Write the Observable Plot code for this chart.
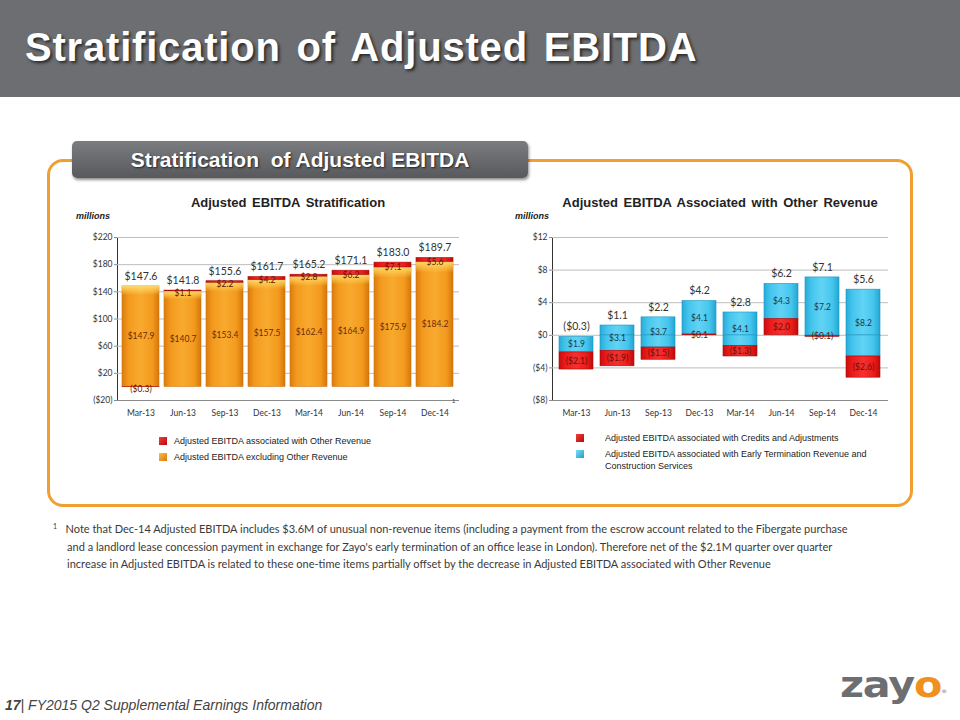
<!DOCTYPE html>
<html><head><meta charset="utf-8">
<script src="https://cdn.jsdelivr.net/npm/d3@7"></script>
<script src="https://cdn.jsdelivr.net/npm/@observablehq/plot@0.6"></script>
<style>
body{margin:0;background:#fff;}
#page{position:relative;width:960px;height:720px;overflow:hidden;font-family:"Liberation Sans",Arial,sans-serif;}
.abs{position:absolute;white-space:nowrap;}
#header{left:0;top:0;width:960px;height:97px;background:#6d6e71;}
#title{left:25px;top:24px;color:#fff;font-weight:bold;font-size:40px;line-height:46px;letter-spacing:0.8px;word-spacing:4px;text-shadow:2px 2px 3px #2a2a2a;}
#box{left:47px;top:159px;width:860px;height:342px;border:3px solid #f0a030;border-radius:16px;}
#tab{left:72px;top:141px;width:456px;height:37px;border-radius:5px;background:linear-gradient(#7b7c7f,#58595c);box-shadow:1px 2px 3px rgba(0,0,0,.45);color:#fff;font-weight:bold;font-size:21px;text-align:center;line-height:37px;text-shadow:1px 1px 2px #222;}
.ctitle{font-weight:bold;font-size:13px;word-spacing:2px;color:#222;transform:translateX(-50%);}
.mill{font-weight:bold;font-style:italic;font-size:9px;color:#222;}
.leg{font-size:9px;color:#222;}
.sw{width:8px;height:8px;}
#foot{left:53px;top:520px;font-family:Lato,sans-serif;font-size:11px;line-height:17.5px;color:#3a3a3a;}
#footer{left:5px;top:697px;font-style:italic;font-size:14px;color:#444;}
#logo{left:840px;top:668px;font-family:"DejaVu Sans",sans-serif;font-weight:900;font-size:35px;line-height:35px;letter-spacing:-1px;transform:scaleX(1.18);transform-origin:left top;}
</style></head>
<body>
<svg width="0" height="0" style="position:absolute">
<defs>
<linearGradient id="gOrange" x1="0" x2="1" y1="0" y2="0">
<stop offset="0" stop-color="#dc7c0c"/><stop offset="0.18" stop-color="#f39a1e"/><stop offset="0.5" stop-color="#f8aa2e"/><stop offset="0.82" stop-color="#f39a1e"/><stop offset="1" stop-color="#d6760a"/>
</linearGradient>
<linearGradient id="gTop" x1="0" x2="0" y1="0" y2="1">
<stop offset="0" stop-color="#ffe27a" stop-opacity="0.9"/><stop offset="0.045" stop-color="#ffd860" stop-opacity="0.55"/><stop offset="0.09" stop-color="#ffd860" stop-opacity="0"/><stop offset="1" stop-color="#ffd860" stop-opacity="0"/>
</linearGradient>
<linearGradient id="gRed" x1="0" x2="1" y1="0" y2="0">
<stop offset="0" stop-color="#c80c0c"/><stop offset="0.2" stop-color="#ee1c1c"/><stop offset="0.5" stop-color="#f53030"/><stop offset="0.8" stop-color="#ee1c1c"/><stop offset="1" stop-color="#c00a0a"/>
</linearGradient>
<linearGradient id="gCyan" x1="0" x2="1" y1="0" y2="0">
<stop offset="0" stop-color="#27acd8"/><stop offset="0.2" stop-color="#45c6ee"/><stop offset="0.5" stop-color="#62d3f4"/><stop offset="0.8" stop-color="#45c6ee"/><stop offset="1" stop-color="#22a6d2"/>
</linearGradient>
</defs></svg>
<div id="page">
  <div id="header" class="abs"></div>
  <div id="title" class="abs">Stratification of Adjusted EBITDA</div>
  <div id="box" class="abs"></div>
  <div id="tab" class="abs">Stratification&nbsp; of Adjusted EBITDA</div>

  <div class="abs ctitle" style="left:288px;top:195px;">Adjusted EBITDA Stratification</div>
  <div class="abs ctitle" style="left:720px;top:195px;">Adjusted EBITDA Associated with Other Revenue</div>
  <div class="abs mill" style="left:76px;top:211px;">millions</div>
  <div class="abs mill" style="left:515px;top:211px;">millions</div>

  <div id="leftChart" class="abs" style="left:70px;top:225px;"></div>
  <div id="rightChart" class="abs" style="left:510px;top:225px;"></div>
  <div class="abs" style="left:452px;top:398px;font-size:6px;color:#333;">1</div>

  <div class="abs sw" style="left:159px;top:437px;background:linear-gradient(135deg,#f04040,#b80808);"></div>
  <div class="abs leg" style="left:174px;top:436px;">Adjusted EBITDA associated with Other Revenue</div>
  <div class="abs sw" style="left:159px;top:453px;background:linear-gradient(135deg,#fbc04a,#d9760a);"></div>
  <div class="abs leg" style="left:174px;top:452px;">Adjusted EBITDA excluding Other Revenue</div>

  <div class="abs sw" style="left:576px;top:434px;background:linear-gradient(135deg,#f04040,#b80808);"></div>
  <div class="abs leg" style="left:605px;top:433px;">Adjusted EBITDA associated with Credits and Adjustments</div>
  <div class="abs sw" style="left:576px;top:450px;background:linear-gradient(135deg,#7fdcf6,#1f9fcc);"></div>
  <div class="abs leg" style="left:605px;top:448px;line-height:12px;">Adjusted EBITDA associated with Early Termination Revenue and<br>Construction Services</div>

  <div id="foot" class="abs"><span style="font-size:7px;vertical-align:top;position:relative;top:-2px;">1</span>&nbsp;&nbsp; Note that Dec-14 Adjusted EBITDA includes $3.6M of unusual non-revenue items (including a payment from the escrow account related to the Fibergate purchase<br>&nbsp;&nbsp;&nbsp;&nbsp; and a landlord lease concession payment in exchange for Zayo's early termination of an office lease in London). Therefore net of the $2.1M quarter over quarter<br>&nbsp;&nbsp;&nbsp;&nbsp; increase in Adjusted EBITDA is related to these one-time items partially offset by the decrease in Adjusted EBITDA associated with Other Revenue</div>

  <div id="footer" class="abs"><b>17</b>| FY2015 Q2 Supplemental Earnings Information</div>
  <div id="logo" class="abs"><span style="color:#6d6e71">zay</span><span style="color:#f0901e">o</span><span style="font-size:5px;color:#999;vertical-align:top;position:relative;top:6px;">®</span></div>
</div>
<script>
const quarters = ["Mar-13","Jun-13","Sep-13","Dec-13","Mar-14","Jun-14","Sep-14","Dec-14"];
// Left chart: Adjusted EBITDA stratification ($M)
const exclOtherRevenue = [147.9,140.7,153.4,157.5,162.4,164.9,175.9,184.2];
const otherRevenue = [-0.3,1.1,2.2,4.2,2.8,6.2,7.1,5.6];
const adjustedTotal = [147.6,141.8,155.6,161.7,165.2,171.1,183.0,189.7];
const leftTicks = [-20,20,60,100,140,180,220];
// Right chart: Adjusted EBITDA associated with other revenue ($M)
const earlyTermConstruction = [1.9,3.1,3.7,4.1,4.1,4.3,7.2,8.2];
const creditsAdjustments = [-2.1,-1.9,-1.5,0.1,-1.3,2.0,-0.1,-2.6];
const rightTicks = [-8,-4,0,4,8,12];

const fmt = v => v < 0 ? `($${Math.abs(v).toFixed(1)})` : `$${v.toFixed(1)}`;
const fmtTick = v => v < 0 ? `($${Math.abs(v)})` : `$${v}`;

const left = quarters.map((q, i) => {
  const e = exclOtherRevenue[i], o = otherRevenue[i];
  return {q, excl: e, other: o, total: adjustedTotal[i],
    r1: o >= 0 ? e : 0, r2: o >= 0 ? e + o : o};
});

const leftPlot = Plot.plot({
  width: 400, height: 200,
  marginLeft: 47, marginRight: 11, marginTop: 12, marginBottom: 25,
  style: {fontFamily: "Lato, sans-serif", fontSize: "8.5px", color: "#333", background: "transparent", overflow: "visible"},
  x: {domain: quarters, padding: 0.11, label: null, tickSize: 0, tickPadding: 9},
  y: {domain: [-20, 220], ticks: leftTicks, tickFormat: fmtTick, label: null, tickSize: 3, tickPadding: 2, line: true},
  marks: [
    Plot.gridY(leftTicks, {stroke: "#bdbdbd", strokeOpacity: 1}),
    Plot.barY(left, {x: "q", y1: 0, y2: "excl", fill: "url(#gOrange)", stroke: "#cf7410", strokeWidth: 0.6}),
    Plot.barY(left, {x: "q", y1: 0, y2: "excl", fill: "url(#gTop)"}),
    Plot.barY(left, {x: "q", y1: "r1", y2: "r2", fill: "url(#gRed)", stroke: "#a80a0a", strokeWidth: 0.6}),
    Plot.text(left, {x: "q", y: d => d.excl / 2, text: d => fmt(d.excl), fill: "#6b2a05", fontSize: 8.5}),
    Plot.text(left, {x: "q", y: d => (d.r1 + d.r2) / 2, text: d => fmt(d.other), fill: "#5a1608", fontSize: 8.5, dy: 2}),
    Plot.text(left, {x: "q", y: "total", text: d => fmt(d.total), dy: -10, fontSize: 10.5, fill: "#333"}),
    Plot.ruleY([-20], {stroke: "#8a8a8a"})
  ]
});
document.getElementById("leftChart").append(leftPlot);

const segs = [], labels = [];
quarters.forEach((q, i) => {
  const c = earlyTermConstruction[i], r = creditsAdjustments[i];
  const lo = r, hi = r + c;
  if (lo < 0 && hi > 0) {
    segs.push({q, y1: lo, y2: 0, s: "cyan"});
    segs.push({q, y1: 0, y2: hi, s: "cyan"});
  } else segs.push({q, y1: lo, y2: hi, s: "cyan"});
  const red = r >= 0 ? [0, r] : [r, 2 * r];
  segs.push({q, y1: red[0], y2: red[1], s: "red"});
  labels.push({q, total: otherRevenue[i], top: hi, cMid: (lo + hi) / 2, c, r, rMid: (red[0] + red[1]) / 2});
});

const rightPlot = Plot.plot({
  width: 390, height: 200,
  marginLeft: 42, marginRight: 12, marginTop: 12, marginBottom: 25,
  style: {fontFamily: "Lato, sans-serif", fontSize: "8.5px", color: "#333", background: "transparent", overflow: "visible"},
  x: {domain: quarters, padding: 0.16, label: null, tickSize: 0, tickPadding: 9},
  y: {domain: [-8, 12], ticks: rightTicks, tickFormat: fmtTick, label: null, tickSize: 3, tickPadding: 2, line: true},
  marks: [
    Plot.gridY(rightTicks, {stroke: "#bdbdbd", strokeOpacity: 1}),
    Plot.barY(segs.filter(d => d.s === "cyan"), {x: "q", y1: "y1", y2: "y2", fill: "url(#gCyan)", stroke: "#1a93c0", strokeWidth: 0.6}),
    Plot.barY(segs.filter(d => d.s === "red"), {x: "q", y1: "y1", y2: "y2", fill: "url(#gRed)", stroke: "#a80a0a", strokeWidth: 0.6}),
    Plot.text(labels, {x: "q", y: "cMid", text: d => fmt(d.c), fill: "#1e3448", fontSize: 8.5}),
    Plot.text(labels, {x: "q", y: "rMid", text: d => fmt(d.r), fill: "#5a1608", fontSize: 8.5}),
    Plot.text(labels, {x: "q", y: "top", text: d => fmt(d.total), dy: -10, fontSize: 10.5, fill: "#333"}),
    Plot.ruleY([-8], {stroke: "#8a8a8a"})
  ]
});
document.getElementById("rightChart").append(rightPlot);

// soften the axis line / tick colour
d3.selectAll("#leftChart svg [aria-label='y-axis tick'] path, #rightChart svg [aria-label='y-axis tick'] path").attr("stroke", "#8a8a8a");
d3.selectAll("#leftChart svg [aria-label='y-axis line'], #rightChart svg [aria-label='y-axis line']").attr("stroke", "#8a8a8a");
</script>
</body></html>
